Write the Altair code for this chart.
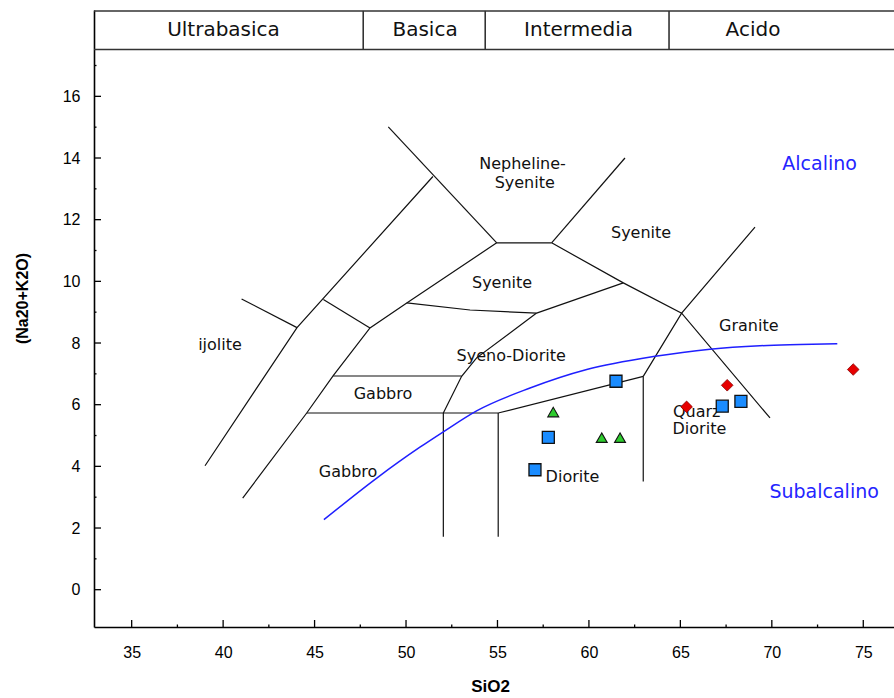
import altair as alt
import pandas as pd

# ---------------- axes ----------------
X_DOMAIN = [32.94, 76.68]
Y_DOMAIN = [-1.21, 18.8]
X_TICKS = [35, 40, 45, 50, 55, 60, 65, 70, 75]
X_MINOR = [37.5, 42.5, 47.5, 52.5, 57.5, 62.5, 67.5, 72.5]
Y_TICKS = [0, 2, 4, 6, 8, 10, 12, 14, 16]
Y_MINOR = [1, 3, 5, 7, 9, 11, 13, 15, 17]

# ---------------- header band ----------------
HEADER_Y = [17.52, 18.77]
HEADER_DIVIDERS = [47.66, 54.33, 64.38]
HEADER_NAMES = ["Ultrabasica", "Basica", "Intermedia", "Acido"]
HEADER_CENTERS = [40.02, 51.04, 59.43, 68.97]
HEADER_LABEL_Y = 18.15

# ---------------- field boundaries (SiO2, Na2O+K2O) ----------------
ijolite_outer = [(39.01, 4.02), (44.04, 8.50), (51.47, 13.40)]
ijolite_tie = [(41.01, 9.43), (44.04, 8.50)]
gabbro_tie = [(45.48, 9.41), (48.03, 8.49)]
nepheline_left = [(49.03, 15.01), (54.96, 11.25)]
nepheline_base = [(54.96, 11.25), (57.96, 11.25)]
nepheline_right = [(57.96, 11.25), (61.97, 14.00)]
syenite_right_base = [(57.96, 11.25), (61.88, 9.95), (65.07, 8.97), (69.90, 5.57)]
gabbro_inner = [(54.96, 11.25), (50.04, 9.30), (48.03, 8.49), (46.02, 6.94),
                (44.57, 5.73), (41.07, 2.97)]
syenite_base = [(50.04, 9.30), (53.5, 9.07), (57.14, 8.97)]
syenite_step = [(57.14, 8.97), (61.88, 9.95)]
syenodiorite_left = [(57.14, 8.97), (53.86, 7.52), (53.04, 6.92), (52.04, 5.73)]
gabbro_top = [(46.02, 6.93), (53.04, 6.93)]
gabbro_bottom = [(44.57, 5.73), (55.04, 5.73)]
gabbro_divider = [(52.04, 5.73), (52.04, 1.72)]
diorite_left = [(55.04, 5.73), (55.04, 1.72)]
diorite_top = [(55.04, 5.73), (62.97, 6.92)]
diorite_right = [(62.97, 6.92), (62.97, 3.51)]
granite_left = [(62.97, 6.92), (65.07, 8.97), (69.08, 11.76)]

BOUNDARIES = [ijolite_outer, ijolite_tie, gabbro_tie, nepheline_left, nepheline_base,
              nepheline_right, syenite_right_base, gabbro_inner, syenite_base,
              syenite_step, syenodiorite_left, gabbro_top, gabbro_bottom,
              gabbro_divider, diorite_left, diorite_top, diorite_right, granite_left]

# ---------------- alkaline / subalkaline divide ----------------
alk_x = [45.51, 48.40, 50.76, 52.04, 53.86, 56.78, 59.88, 63.52, 66.62, 69.35, 71.54, 73.58]
alk_y = [2.27, 3.62, 4.62, 5.12, 5.80, 6.54, 7.14, 7.56, 7.80, 7.91, 7.95, 7.98]

# ---------------- samples ----------------
sq_x = [61.48, 57.78, 57.05, 67.29, 68.31]
sq_y = [6.76, 4.94, 3.89, 5.95, 6.11]
tri_x = [58.05, 60.70, 61.70]
tri_y = [5.76, 4.93, 4.93]
dia_x = [65.34, 67.56, 74.45]
dia_y = [5.93, 6.63, 7.14]

# ---------------- labels ----------------
field_names = ["Nepheline-", "Syenite", "Syenite", "Syenite", "ijolite", "Syeno-Diorite",
               "Gabbro", "Gabbro", "Granite", "Quarz", "Diorite", "Diorite"]
field_x = [56.37, 56.49, 62.85, 55.25, 39.83, 55.75, 48.74, 46.83, 68.74, 65.89, 66.04, 59.10]
field_y = [13.79, 13.19, 11.57, 9.95, 7.95, 7.59, 6.36, 3.82, 8.54, 5.75, 5.21, 3.64]
series_names = ["Alcalino", "Subalcalino"]
series_x = [72.61, 72.86]
series_y = [13.79, 3.18]

W, H = 800, 617

# ---------------- tables ----------------
rows = []
for i, line in enumerate(BOUNDARIES):
    for j, (x, y) in enumerate(line):
        rows.append({"line": i, "order": j, "x": x, "y": y})
bound_df = pd.DataFrame(rows)
alk_df = pd.DataFrame({"x": alk_x, "y": alk_y})
sq_df = pd.DataFrame({"x": sq_x, "y": sq_y})
tri_df = pd.DataFrame({"x": tri_x, "y": tri_y})
dia_df = pd.DataFrame({"x": dia_x, "y": dia_y})
field_df = pd.DataFrame({"name": field_names, "x": field_x, "y": field_y})
series_df = pd.DataFrame({"name": series_names, "x": series_x, "y": series_y})
head_h_df = pd.DataFrame({"y": HEADER_Y, "x": [X_DOMAIN[0]] * 2, "x2": [X_DOMAIN[1]] * 2})
head_v_df = pd.DataFrame({"x": HEADER_DIVIDERS, "y": [HEADER_Y[0]] * 3, "y2": [HEADER_Y[1]] * 3})
head_t_df = pd.DataFrame({"name": HEADER_NAMES, "x": HEADER_CENTERS, "y": [HEADER_LABEL_Y] * 4})
xt_df = pd.DataFrame({"x": X_TICKS})
xm_df = pd.DataFrame({"x": X_MINOR})
yt_df = pd.DataFrame({"y": Y_TICKS})
ym_df = pd.DataFrame({"y": Y_MINOR})

xs = alt.Scale(domain=X_DOMAIN, nice=False, zero=False)
ys = alt.Scale(domain=Y_DOMAIN, nice=False, zero=False)

x_axis = alt.Axis(values=X_TICKS, ticks=False, tickSize=0, grid=False, domainColor="black",
                  domainWidth=1.6, labelFont="Liberation Sans", labelFontSize=16,
                  labelColor="black", labelPadding=17, labelFlush=False, labelOverlap=False,
                  titleFont="Liberation Sans", titleFontSize=17,
                  titleFontWeight="bold", titleColor="black", titleX=396, titleY=59,
                  titleAlign="center", titleBaseline="middle")
y_axis = alt.Axis(values=Y_TICKS, ticks=False, tickSize=0, grid=False, domainColor="black",
                  domainWidth=1.6, labelFont="Liberation Sans", labelFontSize=16,
                  labelColor="black", labelPadding=14, labelFlush=False, labelOverlap=False,
                  titleFont="Liberation Sans", titleFontSize=16,
                  titleFontWeight="bold", titleColor="black", titleAngle=270,
                  titleX=-72, titleY=288, titleAlign="center", titleBaseline="middle")


def X(field="x"):
    return alt.X(f"{field}:Q", scale=xs, axis=x_axis, title="SiO2")


def Y(field="y"):
    return alt.Y(f"{field}:Q", scale=ys, axis=y_axis, title="(Na20+K2O)")


lines = alt.Chart(bound_df).mark_line(color="#111111", strokeWidth=1.2).encode(
    x=X(), y=Y(), detail="line:N", order="order:Q")

head_h = alt.Chart(head_h_df).mark_rule(color="#333333", strokeWidth=1.6).encode(
    x=X(), x2="x2:Q", y=Y())
head_v = alt.Chart(head_v_df).mark_rule(color="#333333", strokeWidth=1.6).encode(
    x=X(), y=Y(), y2="y2:Q")
head_t = alt.Chart(head_t_df).mark_text(font="DejaVu Sans", fontSize=20, color="#111111",
                                        baseline="middle", align="center").encode(
    x=X(), y=Y(), text="name:N")

alk = alt.Chart(alk_df).mark_line(color="#1f1fff", strokeWidth=1.5, interpolate="monotone").encode(
    x=X(), y=Y())

fields = alt.Chart(field_df).mark_text(font="DejaVu Sans", fontSize=16, color="#111111",
                                       baseline="middle", align="center").encode(
    x=X(), y=Y(), text="name:N")

series = alt.Chart(series_df).mark_text(font="DejaVu Sans", fontSize=19, color="#2424ff",
                                        baseline="middle", align="center").encode(
    x=X(), y=Y(), text="name:N")

sq = alt.Chart(sq_df).mark_point(shape="square", size=144, filled=True, fill="#1a8cff",
                                 stroke="#111111", strokeWidth=1.3, opacity=1).encode(
    x=X(), y=Y())
tri = alt.Chart(tri_df).mark_point(shape="triangle-up", size=120, filled=True, fill="#2ecc2e",
                                   stroke="#111111", strokeWidth=1.1, opacity=1).encode(
    x=X(), y=Y())
dia = alt.Chart(dia_df).mark_point(shape="diamond", size=135, filled=True, fill="#e60000",
                                   stroke="#8a0000", strokeWidth=0.8, opacity=1).encode(
    x=X(), y=Y())

xt = alt.Chart(xt_df).mark_rule(color="black", strokeWidth=1.3).encode(
    x=X(), y=alt.value(H), y2=alt.value(H - 7))
xm = alt.Chart(xm_df).mark_rule(color="black", strokeWidth=1.3).encode(
    x=X(), y=alt.value(H), y2=alt.value(H - 2.5))
yt = alt.Chart(yt_df).mark_rule(color="black", strokeWidth=1.3).encode(
    y=Y(), x=alt.value(0), x2=alt.value(7))
ym = alt.Chart(ym_df).mark_rule(color="black", strokeWidth=1.3).encode(
    y=Y(), x=alt.value(0), x2=alt.value(2.5))

chart = alt.layer(
    lines, head_h, head_v, head_t, alk, fields, series, sq, tri, dia, xt, xm, yt, ym
).properties(
    width=W, height=H,
    padding={"left": 94, "top": 10, "right": 0, "bottom": 71},
    autosize=alt.AutoSizeParams(type="none"),
    background="white",
).configure_view(stroke=None)

chart.save("out.html", embed_options={"renderer": "svg", "actions": False})
